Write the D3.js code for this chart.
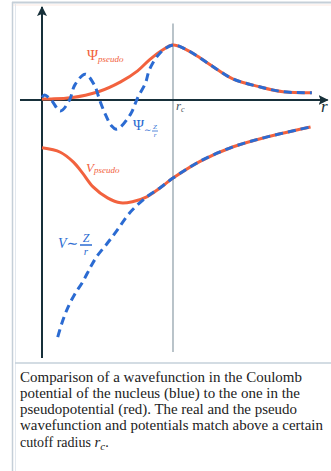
<!DOCTYPE html>
<html>
<head>
<meta charset="utf-8">
<script src="https://cdn.jsdelivr.net/npm/d3@7"></script>
<style>
  html, body { margin: 0; padding: 0; background: #fff; }
  svg { display: block; }
</style>
</head>
<body>
<div id="chart"></div>
<script>
// r in units of the cutoff radius (rc = 1), values normalised so the psi peak is 1
const psiReal = [[0, 0.05], [0.02, 0.09], [0.07, 0], [0.14, -0.2], [0.21, 0], [0.25, 0.27],
  [0.33, 0.47], [0.4, 0.27], [0.44, 0], [0.48, -0.24], [0.53, -0.47], [0.565, -0.53], [0.6, -0.49],
  [0.68, -0.24], [0.73, 0.04], [0.79, 0.31], [0.82, 0.55], [0.9, 0.85], [1.0, 1.0], [1.09, 0.93],
  [1.21, 0.76], [1.34, 0.55], [1.46, 0.38], [1.66, 0.24], [1.84, 0.15], [2.06, 0.13]];
const psiPseudo = [[0, 0.02], [0.07, 0.02], [0.22, 0.04], [0.43, 0.15], [0.6, 0.33], [0.73, 0.53],
  [0.82, 0.73], [0.92, 0.91], [1.0, 1.0], [1.09, 0.93], [1.21, 0.76], [1.34, 0.55], [1.46, 0.38],
  [1.66, 0.24], [1.84, 0.15], [2.06, 0.13]];
const vPseudo = [[0, -0.87], [0.14, -0.95], [0.24, -1.13], [0.31, -1.33], [0.39, -1.58], [0.5, -1.78],
  [0.6, -1.87], [0.69, -1.85], [0.8, -1.76], [0.9, -1.6], [1.0, -1.42], [1.21, -1.11], [1.46, -0.85],
  [1.72, -0.67], [2.05, -0.49]];
const vReal = [[0.12, -4.31], [0.16, -4.0], [0.2, -3.76], [0.25, -3.53], [0.31, -3.31], [0.37, -3.04],
  [0.42, -2.84], [0.5, -2.6], [0.57, -2.38], [0.67, -2.05], [0.8, -1.76], [0.9, -1.6],
  [1.0, -1.42], [1.21, -1.11], [1.46, -0.85], [1.72, -0.67], [2.05, -0.49]];
const rCut = 1;
const captionLines = [
  "Comparison of a wavefunction in the Coulomb",
  "potential of the nucleus (blue) to the one in the",
  "pseudopotential (red). The real and the pseudo",
  "wavefunction and potentials match above a certain"
];

const width = 331, height = 471;
const red = "#f2623e", blue = "#2b6bd2", axisCol = "#17303a";
const serif = "'Liberation Serif', 'Times New Roman', 'DejaVu Serif', serif";

const x = d3.scaleLinear().domain([0, 1]).range([42, 173]);
const y = d3.scaleLinear().domain([0, 1]).range([100, 45]);

const svg = d3.select("#chart").append("svg")
  .attr("width", width).attr("height", height)
  .attr("font-family", serif);

const defs = svg.append("defs");
defs.append("marker").attr("id", "arrow")
  .attr("viewBox", "0 0 10 10").attr("refX", 9).attr("refY", 5)
  .attr("markerWidth", 10).attr("markerHeight", 10)
  .attr("markerUnits", "userSpaceOnUse").attr("orient", "auto")
  .append("path").attr("d", "M0,0 L10,5 L0,10 L2,5 Z").attr("fill", axisCol);

// frame
svg.append("line").attr("x1", 12).attr("x2", width).attr("y1", 2.5).attr("y2", 2.5)
  .attr("stroke", "#c5cfd8").attr("stroke-width", 2);
svg.append("line").attr("x1", 12).attr("x2", width).attr("y1", 5).attr("y2", 5)
  .attr("stroke", "#fbe9e2").attr("stroke-width", 1);
svg.append("line").attr("x1", 12.5).attr("x2", 12.5).attr("y1", 2).attr("y2", height)
  .attr("stroke", "#c5cfd8").attr("stroke-width", 1.5);
svg.append("line").attr("x1", 15.5).attr("x2", 15.5).attr("y1", 4).attr("y2", height)
  .attr("stroke", "#e3e8ee").attr("stroke-width", 1);
svg.append("line").attr("x1", 15).attr("x2", width).attr("y1", 363).attr("y2", 363)
  .attr("stroke", "#c5d0da").attr("stroke-width", 1.5);

// cutoff line
svg.append("line")
  .attr("x1", x(rCut)).attr("x2", x(rCut)).attr("y1", y(1.39)).attr("y2", y(-4.58))
  .attr("stroke", "#8b9ca6").attr("stroke-width", 1.2);

// axes
svg.append("line")
  .attr("x1", x(-0.168)).attr("x2", x(2.18)).attr("y1", y(0)).attr("y2", y(0))
  .attr("stroke", axisCol).attr("stroke-width", 2).attr("marker-end", "url(#arrow)");
svg.append("line")
  .attr("x1", x(0)).attr("x2", x(0)).attr("y1", y(-4.69)).attr("y2", y(1.69))
  .attr("stroke", axisCol).attr("stroke-width", 2).attr("marker-end", "url(#arrow)");

const line = d3.line()
  .x(d => x(d[0])).y(d => y(d[1]))
  .curve(d3.curveCatmullRom.alpha(0.5));

svg.append("path").datum(psiPseudo).attr("d", line)
  .attr("fill", "none").attr("stroke", red).attr("stroke-width", 3);
svg.append("path").datum(vPseudo).attr("d", line)
  .attr("fill", "none").attr("stroke", red).attr("stroke-width", 3);
svg.append("path").datum(psiReal).attr("d", line)
  .attr("fill", "none").attr("stroke", blue).attr("stroke-width", 3)
  .attr("stroke-dasharray", "8,5");
svg.append("path").datum(vReal).attr("d", line)
  .attr("fill", "none").attr("stroke", blue).attr("stroke-width", 3)
  .attr("stroke-dasharray", "8,5");

// labels
const g = svg.append("g");

const t1 = g.append("text").attr("x", 87).attr("y", 60).attr("fill", red);
t1.append("tspan").attr("font-size", 15).text("Ψ");
t1.append("tspan").attr("font-size", 9).attr("font-style", "italic").attr("dy", 2).text("pseudo");

const t2 = g.append("text").attr("x", 133).attr("y", 130).attr("fill", blue);
t2.append("tspan").attr("font-size", 15).text("Ψ");
t2.append("tspan").attr("font-size", 9).attr("dy", 3).text("∼");
g.append("text").attr("x", 155).attr("y", 129).attr("font-size", 7).attr("fill", blue)
  .attr("font-style", "italic").attr("text-anchor", "middle").text("Z");
g.append("line").attr("x1", 152).attr("x2", 158).attr("y1", 131).attr("y2", 131)
  .attr("stroke", blue).attr("stroke-width", 0.8);
g.append("text").attr("x", 155).attr("y", 137).attr("font-size", 7).attr("fill", blue)
  .attr("font-style", "italic").attr("text-anchor", "middle").text("r");

const t3 = g.append("text").attr("x", 86).attr("y", 172).attr("fill", red).attr("font-style", "italic");
t3.append("tspan").attr("font-size", 13).text("V");
t3.append("tspan").attr("font-size", 9).attr("dy", 1).text("pseudo");

g.append("text").attr("x", 58).attr("y", 248).attr("fill", blue).attr("font-size", 14)
  .attr("font-style", "italic").text("V∼");
g.append("text").attr("x", 86).attr("y", 242).attr("fill", blue).attr("font-size", 12)
  .attr("font-style", "italic").attr("text-anchor", "middle").text("Z");
g.append("line").attr("x1", 80).attr("x2", 92).attr("y1", 245).attr("y2", 245)
  .attr("stroke", blue).attr("stroke-width", 1.5);
g.append("text").attr("x", 86).attr("y", 255).attr("fill", blue).attr("font-size", 11)
  .attr("font-style", "italic").attr("text-anchor", "middle").text("r");

const t4 = g.append("text").attr("x", x(rCut) + 3).attr("y", 110).attr("fill", "#4a5560")
  .attr("font-style", "italic");
t4.append("tspan").attr("font-size", 13).text("r");
t4.append("tspan").attr("font-size", 8).attr("dy", 2).text("c");

g.append("text").attr("x", 321).attr("y", 112).attr("fill", axisCol).attr("font-size", 17)
  .attr("font-style", "italic").text("r");

// caption
const cap = svg.append("g").attr("font-size", 14).attr("fill", "#222");
const capEnds = [302, 300, 297, 323];
captionLines.forEach((s, i) => {
  cap.append("text").attr("x", 20).attr("y", 382 + i * 16)
    .attr("textLength", capEnds[i] - 20).attr("lengthAdjust", "spacingAndGlyphs").text(s);
});
const last = cap.append("text").attr("x", 20).attr("y", 447);
last.append("tspan").text("cutoff radius ");
last.append("tspan").attr("font-size", 15).attr("font-style", "italic").text("r");
last.append("tspan").attr("font-size", 11).attr("font-style", "italic").attr("dy", 3).text("c");
last.append("tspan").attr("dy", -3).text(".");
</script>
</body>
</html>
